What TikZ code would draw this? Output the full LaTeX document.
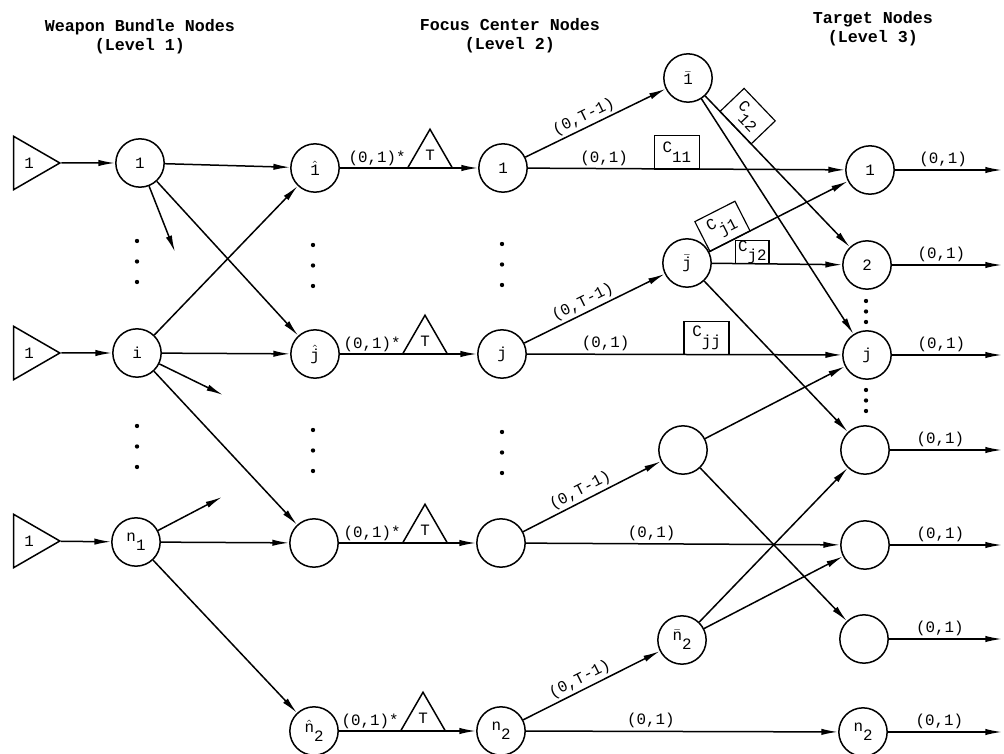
\documentclass[tikz,border=0pt]{standalone}
\usepackage{amsmath}
\usepackage{fontspec}
\setmainfont{Liberation Mono}
\usepackage{tikz}
\usetikzlibrary{arrows.meta,positioning,shapes.geometric}
\newcommand{\lo}[1]{\raisebox{-1.1ex}{#1}}
\newcommand{\hatted}[1]{$\hat{\text{#1}}$}
\newcommand{\barred}[1]{$\bar{\text{#1}}$}

\begin{document}
\begin{tikzpicture}[x=0.6pt, y=-0.6pt,
  font=\fontsize{9.5}{10}\selectfont,
  nd/.style={draw, circle, minimum size=29pt, inner sep=0pt, line width=0.9pt},
  src/.style={draw, regular polygon, regular polygon sides=3, shape border rotate=-90,
              minimum size=37pt, inner sep=0pt, line width=0.9pt},
  tri/.style={draw, regular polygon, regular polygon sides=3, minimum size=31pt,
              inner sep=0pt, outer sep=0pt, line width=0.9pt, anchor=side 2},
  cbox/.style={draw, minimum width=27pt, minimum height=20pt, inner sep=1pt,
               outer sep=0pt, line width=0.7pt},
  ttl/.style={font=\fontsize{10}{11.5}\selectfont\bfseries, align=center},
  arr/.style={-{Latex[length=10pt,width=3.8pt]}, line width=0.9pt},
  lab/.style={above, inner sep=1.5pt}]

\useasboundingbox (0,0) rectangle (1004,754);

% column headings
\node[ttl] (ttl1) at (140,37) {Weapon Bundle Nodes\\(Level 1)};
\node[ttl] (ttl2) at (510,36) {Focus Center Nodes\\(Level 2)};
\node[ttl] (ttl3) at (873,29) {Target Nodes\\(Level 3)};

% supplies and weapon bundles
\node[src] (s1) at (29,163) {1};
\node[src] (s2) at (29,353) {1};
\node[src] (s3) at (29,541) {1};
\node[nd] (a1) at (140,163) {1};
\node[nd] (ai) at (137,353) {i};
\node[nd] (an) at (136,542) {n\lo{1}};

% hatted focus centres
\node[nd] (h1) at (315,168) {\hatted{1}};
\node[nd] (hj) at (315,354) {\hatted{j}};
\node[nd] (hx) at (314,543) {};
\node[nd] (hn) at (314,731) {\hatted{n}\lo{2}};

% focus centres
\node[nd] (f1) at (503,168) {1};
\node[nd] (fj) at (502,354) {j};
\node[nd] (fx) at (501,543) {};
\node[nd] (fn) at (501,731) {n\lo{2}};

% barred focus centres
\node[nd] (b1) at (688,78) {\barred{1}};
\node[nd] (bj) at (687,263) {\barred{j}};
\node[nd] (bx) at (683,450) {};
\node[nd] (bn) at (682,640) {\barred{n}\lo{2}};

% targets
\node[nd] (t1) at (870,170) {1};
\node[nd] (t2) at (867,265) {2};
\node[nd] (tj) at (867,355) {j};
\node[nd] (tx) at (865,450) {};
\node[nd] (ty) at (865,545) {};
\node[nd] (tz) at (864,639) {};
\node[nd] (tn) at (863,732) {n\lo{2}};

% gain triangles
\node[tri] (T1) at (430,168) {T};
\node[tri] (Tj) at (425,354) {T};
\node[tri] (Tx) at (425,543) {T};
\node[tri] (Tn) at (423,731) {T};
\foreach \r in {1,j,x,n}
  \node[anchor=south east, inner sep=1pt] (g\r) at (T\r.corner 2) {(0,1)*};

% loose ends
\coordinate (st1) at (175,252);
\coordinate (st2) at (223,395);
\coordinate (st3) at (222,497);
\coordinate (rim) at (1002,0);

% level 1 arcs
\draw[arr] (s1) -- (a1);
\draw[arr] (s2) -- (ai);
\draw[arr] (s3) -- (an);
\draw[arr] (a1) -- (h1);
\draw[arr] (a1) -- (hj);
\draw[arr] (a1) -- (st1);
\draw[arr] (ai) -- (h1);
\draw[arr] (ai) -- (hj);
\draw[arr] (ai) -- (st2);
\draw[arr] (ai) -- (hx);
\draw[arr] (an) -- (st3);
\draw[arr] (an) -- (hx);
\draw[arr] (an) -- (hn);

% through the gains
\draw[arr] (h1) -- (f1);
\draw[arr] (hj) -- (fj);
\draw[arr] (hx) -- (fx);
\draw[arr] (hn) -- (fn);

% level 2 arcs
\draw[arr] (f1) -- node[lab, sloped, pos=0.45] {(0,T-1)} (b1);
\draw[arr] (fj) -- node[lab, sloped, pos=0.45] {(0,T-1)} (bj);
\draw[arr] (fx) -- node[lab, sloped, pos=0.45] {(0,T-1)} (bx);
\draw[arr] (fn) -- node[lab, sloped, pos=0.45] {(0,T-1)} (bn);
\draw[arr] (f1) -- node[lab, pos=0.24] {(0,1)}
  node[cbox, above, pos=0.47] (c11) {C\lo{11}} (t1);
\draw[arr] (fj) -- node[lab, pos=0.25] {(0,1)}
  node[cbox, above, pos=0.57] (cjj) {C\lo{jj}} (tj);
\draw[arr] (fx) -- node[lab, pos=0.4] {(0,1)} (ty);
\draw[arr] (fn) -- node[lab, pos=0.4] {(0,1)} (tn);

% to the targets
\draw[arr] (b1) -- node[cbox, sloped, above, pos=0.21] (c12) {C\lo{12}} (t2);
\draw[arr] (b1) -- (tj);
\draw[arr] (bj) -- node[cbox, sloped, above, pos=0.15] (cj1) {C\lo{j1}} (t1);
\draw[arr] (bj) -- node[cbox, minimum width=20pt, minimum height=14pt, inner sep=0pt,
  above, pos=0.31] (cj2) {C\lo{j2}} (t2);
\draw[arr] (bj) -- (tx);
\draw[arr] (bx) -- (tj);
\draw[arr] (bx) -- (tz);
\draw[arr] (bn) -- (tx);
\draw[arr] (bn) -- (ty);

% level 3 arcs
\foreach \t in {t1,t2,tj,tx,ty,tz,tn}
  \draw[arr] (\t) -- node[lab, pos=0.45] {(0,1)} (\t -| rim);

% elided nodes
\foreach \x/\a in {137/241,137/426,313/245,313/430,502/244,502/432}
  \foreach \k in {0,1,2}
    \fill ({\x},{\a+20.5*\k}) circle (1.3pt);
\foreach \a in {301,390}
  \foreach \k in {0,1,2}
    \fill (866,{\a+10.5*\k}) circle (1.3pt);
\end{tikzpicture}
\end{document}
